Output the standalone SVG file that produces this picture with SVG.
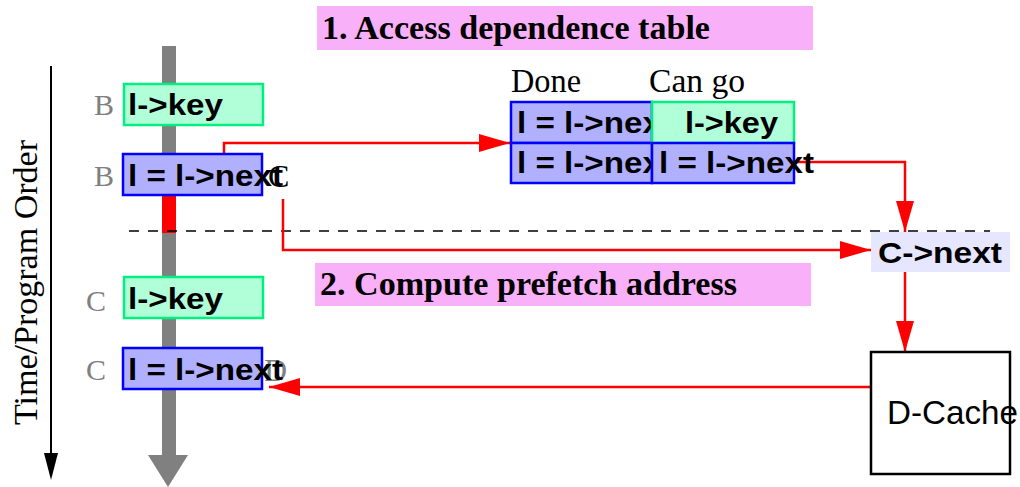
<svg xmlns="http://www.w3.org/2000/svg" width="1020" height="487" viewBox="0 0 1020 487">
<style>
.g{fill:#b0ffd8;stroke:#00f080;stroke-width:2.5}
.b{fill:#b0b0ff;stroke:#0000ff;stroke-width:2.5}
.code{font-family:"Liberation Sans",Arial,sans-serif;font-weight:bold;font-size:30px;fill:#000}
.ser{font-family:"Liberation Serif","Times New Roman",serif;font-size:33px;fill:#000}
.serb{font-family:"Liberation Serif","Times New Roman",serif;font-size:33px;font-weight:bold;fill:#000}
.lab{font-family:"Liberation Serif","Times New Roman",serif;font-size:30px;fill:#808080}
.red{fill:none;stroke:#ff0000;stroke-width:2.5}
</style>
<defs>
<marker id="ah" markerUnits="userSpaceOnUse" markerWidth="32" markerHeight="20" refX="31" refY="9" orient="auto">
<path d="M0,0 L31,9 L0,18 Z" fill="#ff0000"/>
</marker>
</defs>
<rect width="1020" height="487" fill="#fff"/>

<g id="titles">
<rect x="317" y="6" width="496" height="44" fill="#f8b0f8"/>
<text class="serb" x="322" y="39" textLength="388" lengthAdjust="spacingAndGlyphs">1. Access dependence table</text>
<rect x="315" y="263" width="496" height="43" fill="#f8b0f8"/>
<text class="serb" x="320" y="295" textLength="417" lengthAdjust="spacingAndGlyphs">2. Compute prefetch address</text>
</g>

<g id="time-axis">
<line x1="51" y1="66" x2="51" y2="456" stroke="#000" stroke-width="2"/>
<path d="M44,453 L58,453 L51,480 Z" fill="#000"/>
<text class="ser" transform="translate(37,425) rotate(-90)" textLength="285" lengthAdjust="spacingAndGlyphs" style="font-size:33px">Time/Program Order</text>
</g>

<g id="timeline">
<rect x="162" y="46" width="14" height="410" fill="#808080"/>
<path d="M148,455 L188,455 L168,487 Z" fill="#808080"/>
<rect x="162" y="195" width="14" height="38" fill="#ff0000"/>
</g>

<line id="divider" x1="129" y1="231" x2="990" y2="231" stroke="#000" stroke-width="1.5" stroke-dasharray="10 9"/>

<g id="connectors">
<polyline class="red" points="224,154 224,143 510,143" marker-end="url(#ah)"/>
<polyline class="red" points="283,199 283,250 871,250" marker-end="url(#ah)"/>
<polyline class="red" points="794,162 905,162 905,232" marker-end="url(#ah)"/>
<line class="red" x1="905" y1="272" x2="905" y2="352" marker-end="url(#ah)"/>
<line class="red" x1="871" y1="387" x2="269" y2="387" marker-end="url(#ah)"/>
</g>

<g id="node-b-key">
<text class="lab" x="94" y="115">B</text>
<rect class="g" x="124" y="84" width="139" height="41"/>
<text class="code" x="128" y="115" textLength="95" lengthAdjust="spacingAndGlyphs">l-&gt;key</text>
</g>

<g id="node-b-next">
<text class="lab" x="94" y="186">B</text>
<rect class="b" x="123" y="154" width="139" height="41"/>
<text class="code" x="128" y="186" textLength="155" lengthAdjust="spacingAndGlyphs">l = l-&gt;next</text>
<text class="ser" x="268" y="187" style="font-size:32px">C</text>
</g>

<g id="node-c-key">
<text class="lab" x="86" y="311">C</text>
<rect class="g" x="124" y="277" width="139" height="41"/>
<text class="code" x="128" y="309" textLength="95" lengthAdjust="spacingAndGlyphs">l-&gt;key</text>
</g>

<g id="node-c-next">
<text class="lab" x="86" y="380">C</text>
<rect class="b" x="123" y="348" width="139" height="41"/>
<text class="lab" x="264" y="381" style="font-size:32px">D</text>
<text class="code" x="128" y="380" textLength="155" lengthAdjust="spacingAndGlyphs">l = l-&gt;next</text>
</g>

<g id="dep-table">
<text class="ser" x="511" y="92" textLength="70" lengthAdjust="spacingAndGlyphs">Done</text>
<text class="ser" x="649" y="92" textLength="96" lengthAdjust="spacingAndGlyphs">Can go</text>
<rect class="b" x="511" y="102" width="141" height="41"/>
<rect class="b" x="511" y="143" width="141" height="40"/>
<text class="code" x="517" y="133" textLength="155" lengthAdjust="spacingAndGlyphs">l = l-&gt;next</text>
<text class="code" x="517" y="173" textLength="155" lengthAdjust="spacingAndGlyphs">l = l-&gt;next</text>
<rect class="g" x="652" y="102" width="142" height="41"/>
<rect class="b" x="652" y="143" width="142" height="40"/>
<text class="code" x="685" y="133" textLength="93" lengthAdjust="spacingAndGlyphs">l-&gt;key</text>
<text class="code" x="659" y="173" textLength="155" lengthAdjust="spacingAndGlyphs">l = l-&gt;next</text>
</g>

<g id="node-cnext">
<rect x="871" y="232" width="139" height="40" fill="#e6e6ff"/>
<text class="code" x="878" y="263" textLength="124" lengthAdjust="spacingAndGlyphs">C-&gt;next</text>
</g>

<g id="node-dcache">
<rect x="871" y="352" width="139" height="122" fill="#fff" stroke="#000" stroke-width="2.5"/>
<text x="887" y="424" style="font-family:'Liberation Sans',Arial,sans-serif;font-size:34px" textLength="131" lengthAdjust="spacingAndGlyphs">D-Cache</text>
</g>
</svg>
